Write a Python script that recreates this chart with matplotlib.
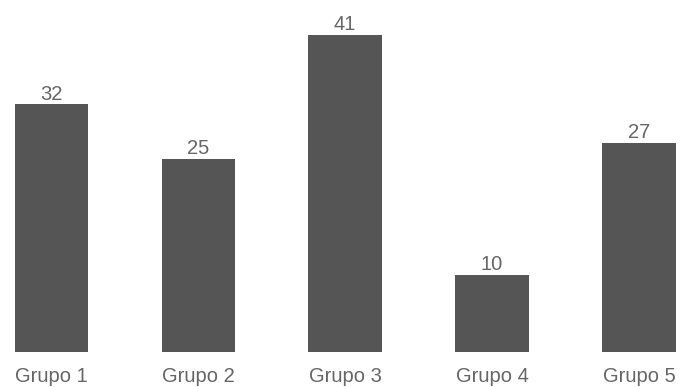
import matplotlib.pyplot as plt

# Data
grupos = ["Grupo 1", "Grupo 2", "Grupo 3", "Grupo 4", "Grupo 5"]
valores = [32, 25, 41, 10, 27]

plt.rcParams['font.family'] = ['Liberation Sans', 'DejaVu Sans']

fig = plt.figure(figsize=(6.83, 3.87), dpi=100)
ax = fig.add_axes([0, 35 / 387, 1, 352 / 387])

x = range(len(grupos))
bars = ax.bar(x, valores, width=0.5, color="#555555")

for b, v in zip(bars, valores):
    ax.text(b.get_x() + b.get_width() / 2, v + 0.1, str(v),
            ha="center", va="bottom", fontsize=14.5, color="#666666")

ax.set_xlim(-0.35, 4.3)
ax.set_ylim(0, 45.5)
ax.set_xticks(list(x))
ax.set_xticklabels(grupos, fontsize=14.5, color="#666666")
ax.tick_params(axis="x", length=0, pad=11)
ax.set_yticks([])
for s in ax.spines.values():
    s.set_visible(False)

fig.savefig("out.png", dpi=100)
